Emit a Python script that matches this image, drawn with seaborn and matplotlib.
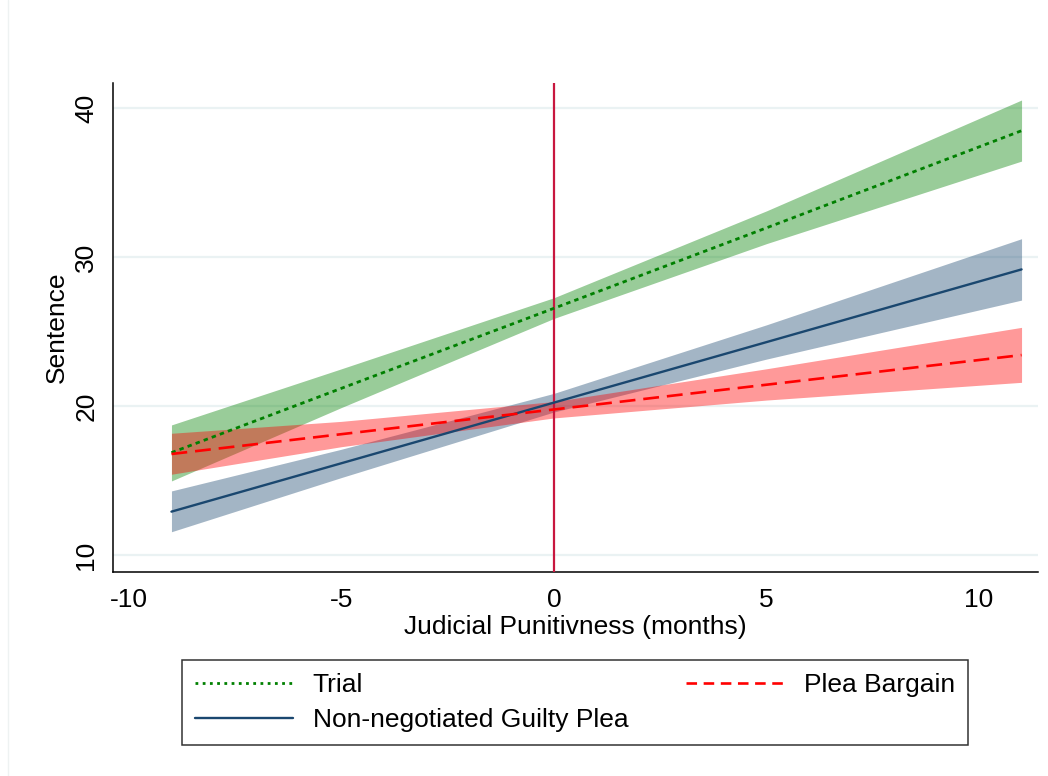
import numpy as np
import pandas as pd
import matplotlib
matplotlib.use("Agg")
import matplotlib.pyplot as plt
import seaborn as sns
from matplotlib.lines import Line2D

sns.set_style("white")
plt.rcParams["font.family"] = ["Liberation Sans", "DejaVu Sans"]
plt.rcParams["text.color"] = "black"
plt.rcParams["axes.labelcolor"] = "black"
plt.rcParams["xtick.color"] = "black"
plt.rcParams["ytick.color"] = "black"

# Predicted sentence (months) by judicial punitiveness, with 95% CIs
punitiveness = [-9, -5, 0, 5, 11]

trial = [16.87, 21.19, 26.56, 31.96, 38.48]
trial_lo = [14.97, 19.90, 25.88, 30.90, 36.44]
trial_hi = [18.73, 22.50, 27.27, 33.10, 40.54]

nonneg = [12.91, 16.16, 20.23, 24.29, 29.17]
nonneg_lo = [11.56, 15.20, 19.60, 23.15, 27.11]
nonneg_hi = [14.30, 17.10, 20.85, 25.45, 31.23]

plea = [16.78, 18.11, 19.77, 21.43, 23.42]
plea_lo = [15.42, 17.27, 19.20, 20.40, 21.59]
plea_hi = [18.17, 18.97, 20.30, 22.50, 25.28]

labels = ["Trial", "Non-negotiated Guilty Plea", "Plea Bargain"]
x_ticks = [-10, -5, 0, 5, 10]
y_ticks = [10, 20, 30, 40]

GREEN = "#008000"
NAVY = "#1a476f"
RED = "#ff0000"
CRANBERRY = "#c8173f"
GRID = "#eaf2f3"

df = pd.concat([
    pd.DataFrame({"x": punitiveness, "y": trial, "lo": trial_lo, "hi": trial_hi, "type": labels[0]}),
    pd.DataFrame({"x": punitiveness, "y": nonneg, "lo": nonneg_lo, "hi": nonneg_hi, "type": labels[1]}),
    pd.DataFrame({"x": punitiveness, "y": plea, "lo": plea_lo, "hi": plea_hi, "type": labels[2]}),
])

colors = {labels[0]: GREEN, labels[1]: NAVY, labels[2]: RED}
dashes = {labels[0]: (1.6, 1.5), labels[1]: "", labels[2]: (6.0, 3.0)}
widths = {labels[0]: 2.0, labels[1]: 1.7, labels[2]: 1.9}

fig = plt.figure(figsize=(10.48, 7.76), dpi=100)
ax = fig.add_axes([0.1078, 0.2629, 0.8827, 0.6301])

# confidence bands
for name in labels:
    d = df[df["type"] == name]
    ax.fill_between(d["x"], d["lo"], d["hi"], color=colors[name], alpha=0.4,
                    linewidth=0, zorder=2)

# horizontal grid
for yt in y_ticks:
    ax.axhline(yt, color=GRID, lw=1.6, zorder=1)

# reference line at zero
ax.axvline(0, color=CRANBERRY, lw=1.6, zorder=3)

sns.lineplot(data=df, x="x", y="y", hue="type", style="type", palette=colors,
             dashes=dashes, hue_order=labels, style_order=labels,
             ax=ax, legend=False, zorder=4, linewidth=2.0)
for line, name in zip(ax.get_lines()[-3:], labels):
    line.set_linewidth(widths[name])

ax.set_xlim(-10.376, 11.388)
ax.set_ylim(8.859, 41.68)
ax.set_xticks(x_ticks)
ax.set_xticklabels([str(v) for v in x_ticks])
ax.set_yticks(y_ticks)
ax.set_yticklabels([str(v) for v in y_ticks], rotation=90, va="center")
ax.tick_params(axis="both", direction="out", length=7.5, width=1.1,
               color="black", labelsize=19, pad=4, labelcolor="black")
ax.tick_params(axis="y", pad=3)

for side in ["top", "right"]:
    ax.spines[side].set_visible(False)
for side in ["left", "bottom"]:
    ax.spines[side].set_color("black")
    ax.spines[side].set_linewidth(1.1)

ax.set_xlabel("Judicial Punitivness (months)", fontsize=19, labelpad=2, color="black")
ax.set_ylabel("Sentence", fontsize=19, labelpad=4, color="black")

handles = [
    Line2D([], [], color=GREEN, lw=2.0, dashes=(1.0, 1.6)),
    Line2D([], [], color=NAVY, lw=1.7),
    Line2D([], [], color=RED, lw=1.9, dashes=(4.0, 2.5)),
]
leg = fig.legend(handles, labels, ncol=2, loc="lower left",
                 bbox_to_anchor=(0.1737, 0.0399, 0.75, 0.1135),
                 mode="expand", borderaxespad=0, fontsize=19,
                 handlelength=3.7, handletextpad=0.75, labelspacing=0.4,
                 borderpad=0.5, fancybox=False, frameon=True)
leg.get_frame().set_edgecolor("black")
leg.get_frame().set_linewidth(1.1)
for t in leg.get_texts():
    t.set_color("black")

# faint outer region edge
fig.add_artist(Line2D([0.008, 0.008], [0.0, 1.0], transform=fig.transFigure,
                      color="#eef2f2", lw=1.0))

fig.savefig("out.png", dpi=100, facecolor="white")
